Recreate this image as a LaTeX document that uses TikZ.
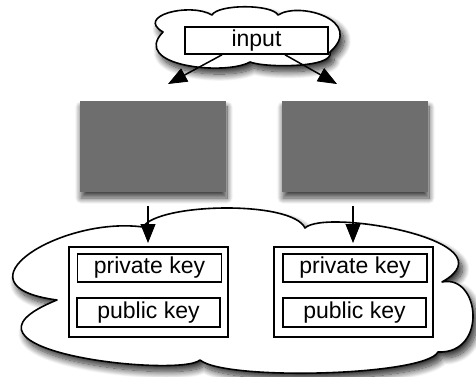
\documentclass[tikz,border=0pt]{standalone}
\usepackage{fontspec}
\setmainfont{Liberation Sans}
\usetikzlibrary{arrows.meta,shadows.blur,calc}
\definecolor{boxgray}{RGB}{110,110,110}

\begin{document}
\begin{tikzpicture}[x=1pt,y=1pt,
  outline/.style={draw=black, line width=1.6pt},
  cloudshape/.style={outline, fill=white, line join=round,
    blur shadow={shadow xshift=4pt, shadow yshift=-6pt, shadow blur radius=7pt,
                 shadow blur steps=14, shadow opacity=85}},
  graybox/.style={fill=boxgray, minimum width=146pt, minimum height=91pt, inner sep=0pt,
    blur shadow={shadow xshift=1pt, shadow yshift=-6pt, shadow blur radius=6pt,
                 shadow blur steps=14, shadow opacity=75}},
  keyframe/.style={outline, fill=white, minimum width=159pt, minimum height=90pt, inner sep=0pt},
  keybox/.style={outline, fill=white, minimum width=144pt, minimum height=28pt, inner sep=0pt,
    font=\fontsize{23}{26}\selectfont},
  inbox/.style={outline, fill=white, minimum width=143pt, minimum height=27pt, inner sep=0pt,
    font=\fontsize{23}{26}\selectfont},
  link/.style={draw=black, line width=1.5pt,
    -{Triangle[length=19pt,width=15pt,fill=black,line width=0.8pt]}}
]
\useasboundingbox (0,0) rectangle (476,376);

% lower cloud holding both key pairs
\draw[cloudshape]
  (143,149) .. controls (158,173) and (292,176) .. (305,148)
            .. controls (325,168) and (515,135) .. (442,94)
            .. controls (480,102) and (488,22) .. (438,24)
            .. controls (425,0) and (225,-5) .. (200,16)
            .. controls (180,-2) and (-70,25) .. (57,76)
            .. controls (-50,90) and (60,160) .. (143,149) -- cycle;

% key pairs
\node[keyframe] (frameL) at (148.5,84) {};
\node[keybox] (privL) at (149.5,108) {private key};
\node[keybox, minimum width=143pt, minimum height=29pt] (pubL) at (148.5,63.5) {public key};

\node[keyframe] (frameR) at (353.5,84) {};
\node[keybox] (privR) at (355,108) {private key};
\node[keybox, minimum width=143pt, minimum height=29pt] (pubR) at (354.5,63.5) {public key};

% hidden generators
\node[graybox] (genL) at (153,229.5) {};
\node[graybox] (genR) at (355,229.5) {};

% upper cloud with the input
\draw[cloudshape]
  (163,344) .. controls (135,360) and (190,374) .. (212,361)
            .. controls (218,372) and (272,372) .. (278,361)
            .. controls (300,375) and (365,355) .. (330,324)
            .. controls (335,308) and (265,308) .. (250,314)
            .. controls (225,300) and (130,310) .. (163,344) -- cycle;
\node[inbox] (in) at (256.5,335.5) {input};

% arrow ends
\coordinate (inL) at ($(in.south)+(-34.5,0)$);
\coordinate (inR) at ($(in.south)+(28.5,0)$);
\coordinate (tipL) at (168,292);
\coordinate (tipR) at (337,292);
\coordinate (outL) at (148,170);
\coordinate (outR) at (353,170);
\coordinate (keyL) at (148,133);
\coordinate (keyR) at (353,133);

\draw[link] (inL) -- (tipL);
\draw[link] (inR) -- (tipR);
\draw[link] (outL) -- (keyL);
\draw[link] (outR) -- (keyR);
\end{tikzpicture}
\end{document}
